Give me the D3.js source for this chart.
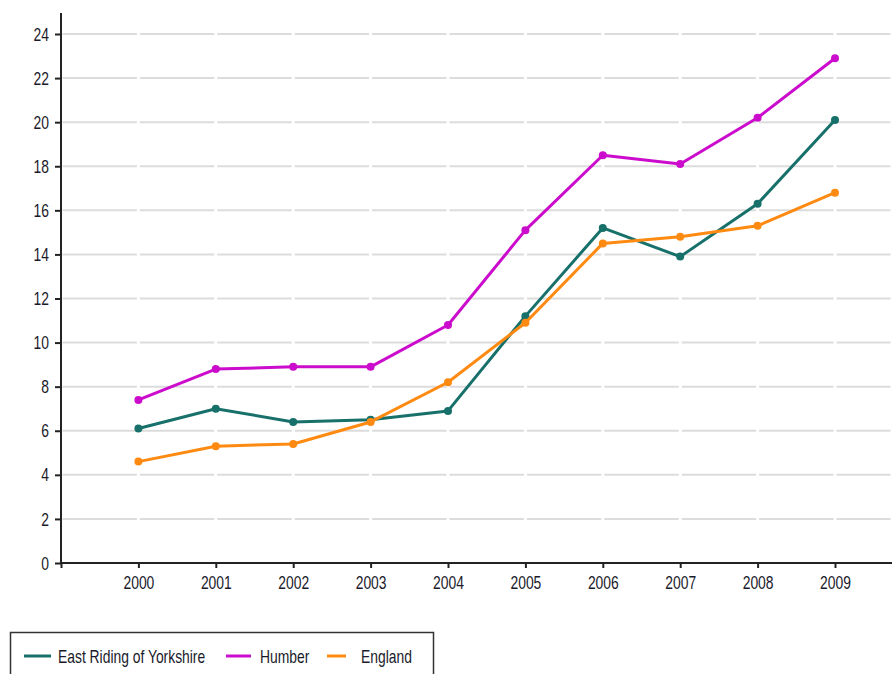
<!DOCTYPE html>
<html>
<head>
<meta charset="utf-8">
<script src="https://cdn.jsdelivr.net/npm/d3@7"></script>
<style>
  body { margin: 0; background: #fff; }
  svg { display: block; font-family: "Liberation Sans", Arial, sans-serif; }
</style>
</head>
<body>
<svg id="chart" width="892" height="674"></svg>
<script>
const years = [2000, 2001, 2002, 2003, 2004, 2005, 2006, 2007, 2008, 2009];
const eastRiding = [6.1, 7.0, 6.4, 6.5, 6.9, 11.2, 15.2, 13.9, 16.3, 20.1];
const humber = [7.4, 8.8, 8.9, 8.9, 10.8, 15.1, 18.5, 18.1, 20.2, 22.9];
const england = [4.6, 5.3, 5.4, 6.4, 8.2, 10.9, 14.5, 14.8, 15.3, 16.8];
const yTicks = [0, 2, 4, 6, 8, 10, 12, 14, 16, 18, 20, 22, 24];

const series = [
  { name: "East Riding of Yorkshire", values: eastRiding, color: "#17706a" },
  { name: "Humber", values: humber, color: "#cc0ccc" },
  { name: "England", values: england, color: "#ff8a12" }
];

// text in the original is tall and condensed, so squeeze it horizontally
const squeeze = 0.73;
const fontSize = "19px";

const svg = d3.select("#chart");

// --- SCALES ---
const x = d3.scaleLinear().domain([1999, 2010]).range([61, 912.4]);
const y = d3.scaleLinear().domain([0, 24]).range([563, 34]);

// --- GRID (broken at each year, like the original) ---
const xStops = [1999].concat(years).map(x).concat([892]);
const grid = svg.append("g");
yTicks.filter(d => d > 0).forEach(t => {
  for (let i = 0; i < xStops.length - 1; i++) {
    grid.append("line")
      .attr("x1", xStops[i] + 1.5)
      .attr("x2", xStops[i + 1] - 1.5)
      .attr("y1", y(t))
      .attr("y2", y(t))
      .attr("stroke", "#dcdcdc")
      .attr("stroke-width", 2);
  }
});

// --- AXES ---
const yAxis = svg.append("g")
  .attr("transform", `translate(${x(1999)},0)`)
  .call(d3.axisLeft(y).tickValues(yTicks).tickSize(6).tickFormat(d3.format("d")));
yAxis.select(".domain").remove();
yAxis.selectAll(".tick text")
  .attr("x", -12 / squeeze)
  .attr("transform", `scale(${squeeze},1)`);
yAxis.append("line")
  .attr("x1", 0).attr("x2", 0)
  .attr("y1", 13).attr("y2", 564)
  .attr("stroke", "#222").attr("stroke-width", 2);

const xAxis = svg.append("g")
  .attr("transform", `translate(0,${y(0)})`)
  .call(d3.axisBottom(x).tickValues([1999].concat(years)).tickSize(5).tickPadding(8)
    .tickFormat(d => d === 1999 ? "" : d));
xAxis.select(".domain").remove();
xAxis.selectAll(".tick text")
  .attr("transform", `scale(${squeeze},1)`);
xAxis.append("line")
  .attr("x1", x(1999)).attr("x2", 892)
  .attr("y1", 0).attr("y2", 0)
  .attr("stroke", "#222").attr("stroke-width", 2);

svg.selectAll(".tick line").attr("stroke", "#222").attr("stroke-width", 2);
svg.selectAll(".tick text")
  .attr("fill", "#1a1a2a")
  .style("font-size", fontSize);

// --- LINES ---
const line = d3.line()
  .x((d, i) => x(years[i]))
  .y(d => y(d));

series.forEach(s => {
  svg.append("path")
    .datum(s.values)
    .attr("fill", "none")
    .attr("stroke", s.color)
    .attr("stroke-width", 3)
    .attr("stroke-linejoin", "round")
    .attr("d", line);

  svg.append("g")
    .selectAll("circle")
    .data(s.values)
    .enter()
    .append("circle")
    .attr("cx", (d, i) => x(years[i]))
    .attr("cy", d => y(d))
    .attr("r", 4)
    .attr("fill", s.color);
});

// --- LEGEND ---
const legend = svg.append("g");
legend.append("rect")
  .attr("x", 10.5).attr("y", 632.5)
  .attr("width", 423).attr("height", 60)
  .attr("fill", "#fff")
  .attr("stroke", "#333")
  .attr("stroke-width", 1.5);

const legendItems = [
  { x1: 24, x2: 51, tx: 58 },
  { x1: 226, x2: 251, tx: 260 },
  { x1: 327, x2: 346, tx: 361 }
];
series.forEach((s, i) => {
  const it = legendItems[i];
  legend.append("line")
    .attr("x1", it.x1).attr("x2", it.x2)
    .attr("y1", 656).attr("y2", 656)
    .attr("stroke", s.color)
    .attr("stroke-width", 3);
  legend.append("text")
    .attr("transform", `translate(${it.tx},663) scale(${squeeze},1)`)
    .attr("fill", "#1a1a2a")
    .style("font-size", fontSize)
    .text(s.name);
});
</script>
</body>
</html>
